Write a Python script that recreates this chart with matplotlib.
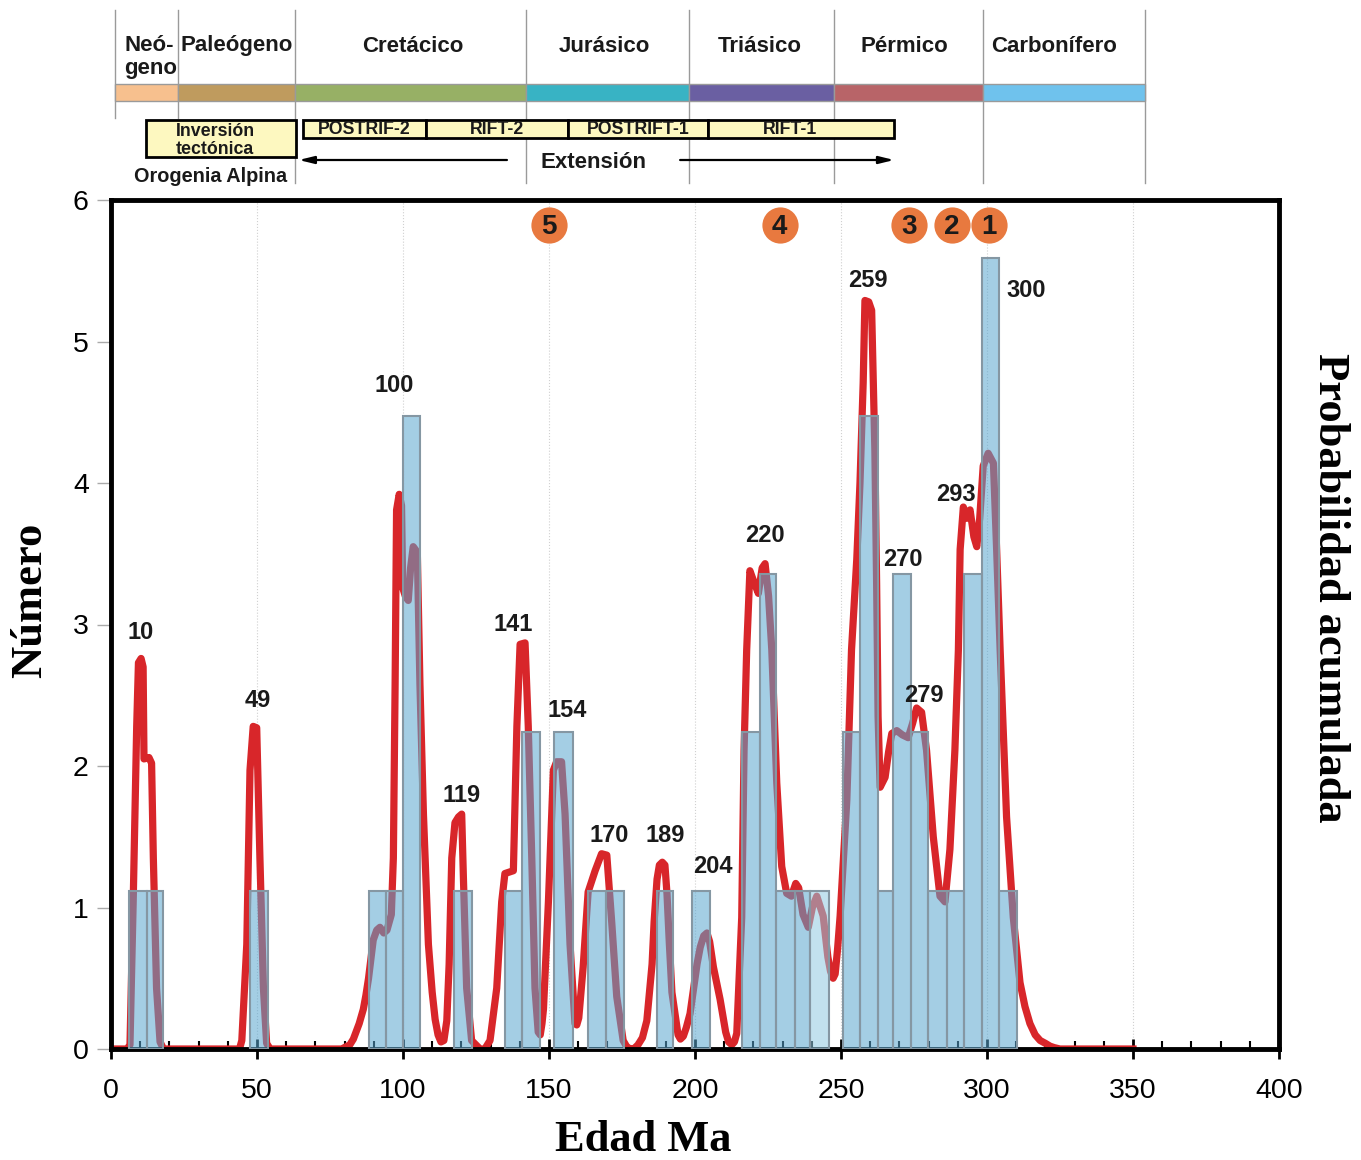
import matplotlib.pyplot as plt
from matplotlib.patches import Rectangle
from matplotlib.ticker import MultipleLocator

# curva de probabilidad
edad = [0, 5.5, 6.5, 7.6, 8.8, 9.4, 10.3, 11.0, 11.3, 13.0, 13.9, 14.5, 15.6, 16.8, 18,
        44, 44.8, 46.5, 47.6, 48.7, 49.9, 51.0, 52.2, 53.3, 54.5,
        79, 81.8, 83, 85, 86.4, 87.3, 88.2, 89.8, 91, 92.1, 93.4, 94.5, 96, 96.7, 97.3, 97.8, 98.7,
        99.5, 99.9, 100.8, 101.8, 102.6, 103.5, 104.9, 105.8, 107, 108.7, 110, 111, 112, 113, 114,
        115, 115.8, 116.7, 117.8, 119, 120.1, 120.7, 121.8, 123.5, 126.4, 128,
        129.8, 132.1, 133.8, 134.9, 137.8, 139, 140.1, 141.8, 142.9, 144.1, 145.2, 146.3, 147,
        147.6, 148.1, 149.8, 151.5, 152.6, 154.3, 155.5, 157.2, 158.9, 159.5, 160.2,
        161.7, 163.4, 165.8, 168, 169.8, 171.5, 173.2, 175.4, 176.5, 177.7, 179, 180.5, 182,
        183.5, 185.3, 186, 187, 187.8, 188.8, 189.7, 190.4, 191.2, 192.1, 194.2, 195, 196, 197,
        198.3, 200.7, 201.8, 203, 204.1, 205, 206.3, 208.6, 210.5, 211.5, 212.6, 213.5,
        214.3, 216, 216.8, 217.7, 218.8, 220.2, 221.7, 223, 224, 225.2, 226.3, 228, 229.7,
        231.4, 233, 234.5, 235.5, 237, 238.8, 240.2, 241.7, 243.9, 245.5, 246.4, 247.3, 248,
        248.8, 249.7, 252, 253.6, 255.4, 256.5, 257.6, 258.2, 259.5, 260.5, 261.6, 262.2, 262.7,
        263.4, 265.1, 266.3, 267.4, 269.1, 271, 273, 274.5, 275.9, 277.6, 279.3, 281.6, 283.9,
        285.6, 287.3, 289, 290.2, 290.8, 291.9, 293, 294.2, 295.5, 296.5, 297.5, 298.7,
        300.4, 302.2, 303.3, 304.5, 306.7, 309, 311.3, 313, 314.7, 316.5, 318.2, 320, 321.6,
        323, 325, 350]
prob = [0, 0, 0.03, 1.04, 2.28, 2.73, 2.76, 2.70, 2.05, 2.06, 2.02, 1.35, 0.43, 0.05, 0,
        0, 0.06, 0.74, 1.97, 2.28, 2.27, 1.35, 0.43, 0.04, 0,
        0, 0.03, 0.07, 0.18, 0.28, 0.38, 0.5, 0.77, 0.84, 0.86, 0.82, 0.84, 0.95, 1.35, 2.58, 3.81, 3.92,
        3.84, 3.26, 3.2, 3.17, 3.4, 3.55, 3.51, 2.58, 1.66, 0.74, 0.4, 0.21, 0.1, 0.05, 0.06,
        0.2, 0.6, 1.35, 1.6, 1.64, 1.66, 1.2, 0.43, 0.06, 0, 0,
        0.06, 0.43, 1.04, 1.24, 1.26, 2.28, 2.86, 2.87, 2.28, 1.35, 0.43, 0.12, 0.1,
        0.18, 0.28, 1.04, 1.97, 2.03, 2.03, 1.66, 0.74, 0.18, 0.17, 0.22,
        0.58, 1.11, 1.26, 1.38, 1.37, 0.89, 0.37, 0.06, 0.02, 0.0, 0.0, 0.03, 0.08,
        0.2, 0.6, 0.9, 1.2, 1.3, 1.32, 1.3, 1.1, 0.75, 0.4, 0.1, 0.07, 0.09, 0.15,
        0.25, 0.6, 0.72, 0.8, 0.82, 0.76, 0.58, 0.35, 0.12, 0.05, 0.03, 0.05,
        0.11, 0.93, 2.11, 2.82, 3.38, 3.3, 3.22, 3.4, 3.43, 3.2, 2.82, 1.88, 1.29,
        1.10, 1.08, 1.17, 1.14, 0.95, 0.86, 1.0, 1.08, 0.94, 0.65, 0.55, 0.5, 0.53,
        0.7, 0.94, 1.76, 2.82, 3.46, 4.0, 4.71, 5.29, 5.28, 5.22, 4.23, 3.29, 2.35,
        1.85, 1.92, 2.1, 2.23, 2.25, 2.22, 2.20, 2.3, 2.41, 2.38, 2.11, 1.50, 1.08,
        1.04, 1.41, 2.11, 2.82, 3.53, 3.83, 3.75, 3.81, 3.62, 3.55, 3.75, 4.12,
        4.21, 4.14, 3.53, 2.82, 1.64, 0.93, 0.47, 0.3, 0.18, 0.1, 0.06, 0.04, 0.02,
        0.01, 0, 0]

# histograma
bar_left = [6.2, 12.3, 47.6, 88.4, 94.2, 100.0, 117.5, 134.9, 140.8, 151.7, 163.4, 169.5,
            187.0, 199.0, 216.0, 222.3, 227.7, 234.2, 239.4, 250.8, 256.5, 262.8, 267.9,
            273.9, 279.9, 286.2, 292.2, 298.2, 304.2]
bar_right = [12.3, 17.9, 53.8, 94.2, 100.0, 105.8, 123.6, 140.8, 146.9, 158.2, 169.5, 175.7,
             192.5, 205.0, 222.3, 227.7, 234.2, 239.4, 245.8, 256.5, 262.8, 267.9, 273.9,
             279.9, 286.2, 292.2, 298.2, 304.2, 310.2]
bar_height = [1.12, 1.12, 1.12, 1.12, 1.12, 4.47, 1.12, 1.12, 2.24, 2.24, 1.12, 1.12,
              1.12, 1.12, 2.24, 3.36, 1.12, 1.12, 1.12, 2.24, 4.47, 1.12, 3.36,
              2.24, 1.12, 1.12, 3.36, 5.59, 1.12]

peak_text = ["10", "49", "100", "119", "141", "154", "170", "189", "204", "220",
             "259", "270", "279", "293", "300"]
peak_x = [10.3, 50.3, 97, 119.9, 137.7, 156.2, 170.5, 189.7, 206.2, 224,
          259.2, 271.2, 278.4, 289.4, 313.4]
peak_y = [2.94, 2.46, 4.69, 1.79, 3.0, 2.39, 1.51, 1.51, 1.29, 3.63,
          5.43, 3.46, 2.5, 3.92, 5.36]

event_text = ["5", "4", "3", "2", "1"]
event_x = [150, 229, 273.3, 288, 300.7]
event_y = [5.82, 5.82, 5.82, 5.82, 5.82]

# escala de tiempo
periodos = ["Neó-\ngeno", "Paleógeno", "Cretácico", "Jurásico", "Triásico", "Pérmico", "Carbonífero"]
per_ini = [1.5, 23, 63, 142, 198, 247.5, 298.5]
per_fin = [23, 63, 142, 198, 247.5, 298.5, 354]
per_txt_x = [4.5, 43.2, 103.4, 168.8, 222.3, 271.6, 323.1]
per_col = ["#f7c08e", "#bf9b5e", "#97b065", "#38b3c4", "#6a5fa2", "#b86468", "#6fc2ed"]

fases = ["POSTRIF-2", "RIFT-2", "POSTRIFT-1", "RIFT-1"]
fase_ini = [65.8, 107.9, 156.5, 204.5]
fase_fin = [107.9, 156.5, 204.5, 268.2]
fase_txt_x = [86.8, 132.2, 180.5, 232.5]

sans = "Liberation Sans"
serif = "Liberation Serif"

fig = plt.figure(figsize=(13.61, 11.6), dpi=100)
ax = fig.add_axes([111 / 1361, 1 - 1049 / 1160, 1168 / 1361, 849 / 1160])

ax.plot(edad, prob, color="#d8262a", lw=5.2, solid_joinstyle="round", zorder=2)

face = [(0.35, 0.65, 0.81, 0.55)] * len(bar_left)
face[18] = (0.57, 0.79, 0.88, 0.55)
anchos = [r - l for l, r in zip(bar_left, bar_right)]
ax.bar(bar_left, bar_height, width=anchos, align="edge", color=face,
       edgecolor="#8597a3", linewidth=1.5, zorder=3)

for t, x, y in zip(peak_text, peak_x, peak_y):
    ax.text(x, y, t, ha="center", va="center", fontsize=17, fontweight="bold",
            family=sans, color="#1a1a1a", zorder=6)

ax.scatter(event_x, event_y, s=680, color="#e8793f", zorder=6, clip_on=False, linewidths=0)
for t, x, y in zip(event_text, event_x, event_y):
    ax.text(x, y - 0.01, t, ha="center", va="center", fontsize=20, fontweight="bold",
            family=sans, color="#1a1a1a", zorder=7)

ax.set_xlim(0, 400)
ax.set_ylim(0, 6)
ax.set_xticks(range(0, 401, 50))
ax.xaxis.set_minor_locator(MultipleLocator(10))
ax.tick_params(axis="x", which="major", direction="inout", length=14, width=2, labelsize=20.5, pad=14)
ax.tick_params(axis="x", which="minor", direction="in", length=6, width=1.5)
ax.tick_params(axis="y", direction="out", length=10, width=1, color="#aaaaaa", labelsize=20.5, pad=6)
for lab in ax.get_xticklabels() + ax.get_yticklabels():
    lab.set_family(sans)
for s in ax.spines.values():
    s.set_linewidth(3.5)
ax.grid(axis="x", which="major", color="#d0d0d0", linestyle=":", linewidth=0.8)

fig.text(643 / 1361, 1 - 1140 / 1160, "Edad Ma", ha="center", va="center",
         family=serif, fontweight="bold", fontsize=32)
fig.text(30 / 1361, 1 - 600 / 1160, "Número", rotation=90, ha="center", va="center",
         family=serif, fontweight="bold", fontsize=32)
fig.text(1330 / 1361, 1 - 588 / 1160, "Probabilidad acumulada", rotation=270, ha="center",
         va="center", family=serif, fontweight="bold", fontsize=32)

# banda superior
top = fig.add_axes([111 / 1361, 1 - 200 / 1160, 1168 / 1361, 200 / 1160])
top.set_xlim(0, 400)
top.set_ylim(200, 0)
top.axis("off")

limites = per_ini + [per_fin[-1]]
for b in limites:
    top.plot([b, b], [10, 118 if b < 30 else 183], color="#9a9a9a", lw=1, zorder=1)
for p, a, b, c, tx in zip(periodos, per_ini, per_fin, per_col, per_txt_x):
    top.add_patch(Rectangle((a, 84), b - a, 17, facecolor=c, edgecolor="#9a9a9a", lw=1, zorder=2))
    if "\n" in p:
        top.text(tx, 35, p, ha="left", va="top", fontsize=16, fontweight="bold", family=sans,
                 linespacing=1.15, color="#1a1a1a")
    else:
        top.text(tx, 46, p, ha="center", va="center", fontsize=16, fontweight="bold",
                 family=sans, color="#1a1a1a")

top.add_patch(Rectangle((12, 120), 51.4, 37, facecolor="#fdf8c0", edgecolor="black", lw=2, zorder=3))
top.text(35.6, 131, "Inversión", ha="center", va="center", fontsize=12.8, fontweight="bold",
         family=sans, color="#1a1a1a", zorder=4)
top.text(35.6, 150, "tectónica", ha="center", va="center", fontsize=12.8, fontweight="bold",
         family=sans, color="#1a1a1a", zorder=4)
for f, a, b, tx in zip(fases, fase_ini, fase_fin, fase_txt_x):
    top.add_patch(Rectangle((a, 120), b - a, 18, facecolor="#fdf8c0", edgecolor="black", lw=2, zorder=3))
    top.text(tx, 130, f, ha="center", va="center", fontsize=12.8, fontweight="bold",
             family=sans, color="#1a1a1a", zorder=4)

flecha = dict(arrowstyle="-|>,head_length=0.9,head_width=0.22", color="black", lw=1.6,
              shrinkA=0, shrinkB=0)
top.annotate("", xy=(64.3, 160), xytext=(135.6, 160), arrowprops=flecha)
top.annotate("", xy=(268.2, 160), xytext=(194.9, 160), arrowprops=flecha)
top.text(165.4, 163, "Extensión", ha="center", va="center", fontsize=16, fontweight="bold",
         family=sans, color="#1a1a1a")
top.text(34.2, 177, "Orogenia Alpina", ha="center", va="center", fontsize=14.3,
         fontweight="bold", family=sans, color="#1a1a1a")

fig.savefig("out.png", dpi=100)
